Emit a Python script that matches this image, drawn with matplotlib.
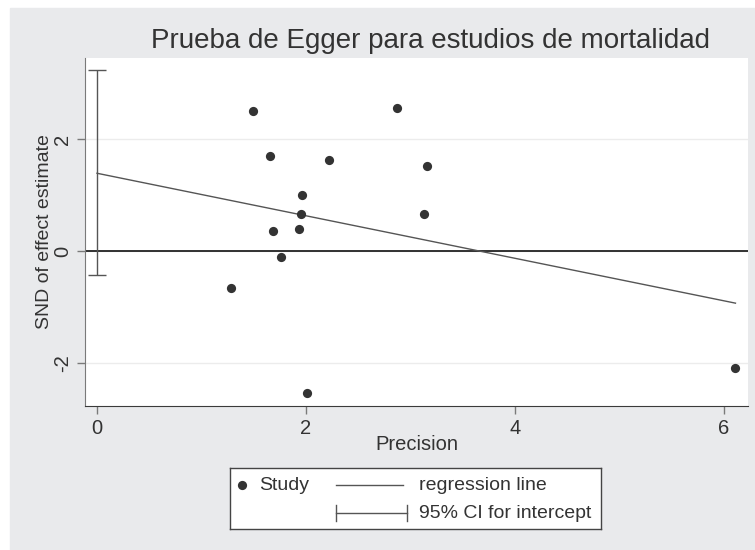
import matplotlib.pyplot as plt
from matplotlib.patches import Rectangle
import numpy as np

plt.rcParams['font.family'] = ['Liberation Sans', 'DejaVu Sans']
plt.rcParams['axes.unicode_minus'] = False

# precision and standard normal deviate of each study
precision = [1.49, 2.87, 1.66, 2.22, 3.16, 1.96, 1.95, 3.13, 1.68, 1.93, 1.76, 1.28, 2.01, 6.11]
snd = [2.51, 2.56, 1.70, 1.63, 1.52, 1.01, 0.66, 0.67, 0.35, 0.40, -0.11, -0.66, -2.54, -2.09]

intercept = 1.39
slope = -0.38
ci_low, ci_high = -0.42, 3.23

title = 'Prueba de Egger para estudios de mortalidad'
xticks = [0, 2, 4, 6]
yticks = [-2, 0, 2]

W, H = 755, 550
fig = plt.figure(figsize=(W / 100, H / 100), dpi=100)
fig.patch.set_facecolor('white')
fig.patches.append(Rectangle((10 / W, 0), 1 - 10 / W, 1 - 8 / H,
                             transform=fig.transFigure, color='#e9eaec', zorder=-10))


def box(l, t, r, b):
    return [l / W, 1 - b / H, (r - l) / W, (b - t) / H]


ax = fig.add_axes(box(85, 58, 748, 406))
ax.set_facecolor('white')
ax.set_xlim(-0.115, 6.23)
ax.set_ylim(-2.77, 3.45)

for s in ('top', 'right'):
    ax.spines[s].set_visible(False)
ax.spines['left'].set_color('#7a7a7a')
ax.spines['bottom'].set_color('#3a3a3a')

ax.set_yticks(yticks)
ax.set_xticks(xticks)
ax.grid(axis='y', color='#ececec', linewidth=1.0, zorder=0)
ax.tick_params(axis='both', colors='#7a7a7a', labelcolor='#333333',
               labelsize=14.5, length=6, width=1)
plt.setp(ax.get_yticklabels(), rotation=90, va='center')

ax.axhline(0, color='#222222', linewidth=1.3, zorder=2)

xs = np.array([0, max(precision)])
ax.plot(xs, intercept + slope * xs, color='#555555', linewidth=1.0, zorder=3)
ax.errorbar([0], [(ci_low + ci_high) / 2], yerr=[[(ci_high - ci_low) / 2]],
            fmt='none', ecolor='#555555', elinewidth=1.0, capsize=6.5, capthick=1.0, zorder=3)

ax.scatter(precision, snd, s=44, color='#333333', zorder=4, linewidths=0)

ax.set_xlabel('Precision', fontsize=14.5, color='#333333', labelpad=-2)
ax.set_ylabel('SND of effect estimate', fontsize=14, color='#333333', labelpad=0)

fig.text(431 / W, 1 - 41 / H, title, ha='center', va='center', fontsize=20, color='#333333')

# legend box drawn by hand, in pixel units
lg = fig.add_axes(box(230, 468, 601, 529))
lg.set_xlim(230, 601)
lg.set_ylim(529, 468)
lg.set_xticks([])
lg.set_yticks([])
lg.set_facecolor('white')
for s in lg.spines.values():
    s.set_color('#444444')
    s.set_linewidth(1.0)
lg.scatter([242], [485], s=44, color='#333333', linewidths=0)
lg.text(259, 485, 'Study', va='center', fontsize=14, color='#333333')
lg.plot([336, 403], [485, 485], color='#555555', linewidth=1.0)
lg.text(419, 485, 'regression line', va='center', fontsize=14, color='#333333')
lg.plot([336, 407], [513, 513], color='#555555', linewidth=1.0)
lg.plot([336, 336], [505, 521], color='#555555', linewidth=1.0)
lg.plot([407, 407], [505, 521], color='#555555', linewidth=1.0)
lg.text(419, 513, '95% CI for intercept', va='center', fontsize=14, color='#333333')

fig.savefig('out.png', dpi=100)
